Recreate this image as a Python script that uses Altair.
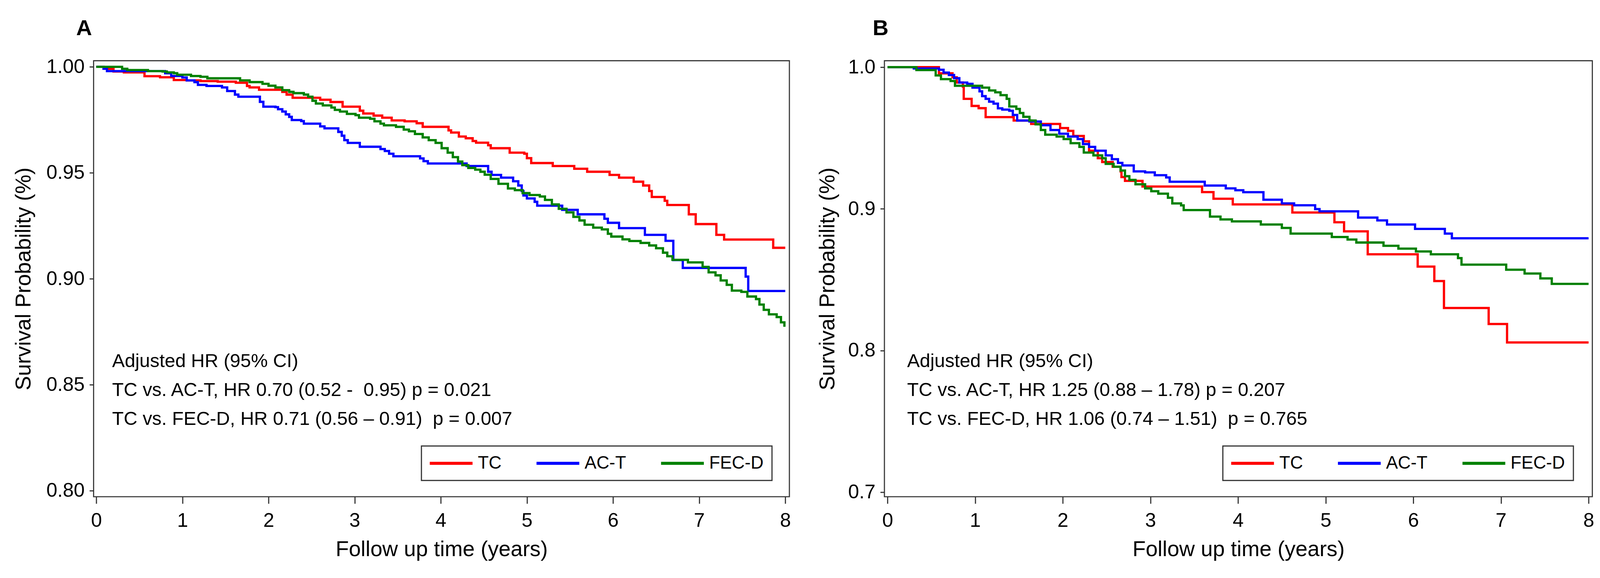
import altair as alt
import pandas as pd

GROUPS = ["TC", "AC-T", "FEC-D"]
COLORS = ["#ff0000", "#0000ff", "#008000"]
X_TICKS = [0, 1, 2, 3, 4, 5, 6, 7, 8]
X_TITLE = "Follow up time (years)"
Y_TITLE = "Survival Probability (%)"

# ---------------- Panel A ----------------
A_TC_T = [0, 0.085, 0.2, 0.32, 0.56, 0.74, 0.9, 1.05, 1.21, 1.41, 1.62, 1.75, 1.78, 1.89, 2.16, 2.21, 2.28,
          2.6, 2.72, 2.86, 3.06, 3.1, 3.22, 3.32, 3.43, 3.58, 3.72, 3.79, 4.09, 4.12, 4.21, 4.29, 4.37, 4.41,
          4.55, 4.58, 4.80, 4.97, 5.0, 5.05, 5.30, 5.55, 5.70, 5.96, 6.07, 6.24, 6.35, 6.42, 6.45, 6.6, 6.63,
          6.88, 6.96, 7.2, 7.29, 7.86, 8.0]
A_TC_S = [1.0, 0.9991, 0.9978, 0.9974, 0.9956, 0.9951, 0.9938, 0.9936, 0.9933, 0.993, 0.9925, 0.991, 0.9903,
          0.9892, 0.9882, 0.9869, 0.9854, 0.9845, 0.9834, 0.9812, 0.9793, 0.978, 0.977, 0.976, 0.9747, 0.9743,
          0.9734, 0.9717, 0.970, 0.969, 0.9671, 0.9663, 0.965, 0.9642, 0.963, 0.9616, 0.9595, 0.959, 0.9569,
          0.9546, 0.9532, 0.9519, 0.9505, 0.949, 0.9477, 0.9458, 0.944, 0.9414, 0.9386, 0.9368, 0.9348, 0.9304,
          0.9258, 0.9207, 0.9185, 0.9146, 0.9146]

A_ACT_T = [0, 0.085, 0.124, 0.80, 0.87, 1.0, 1.05, 1.14, 1.18, 1.28, 1.46, 1.52, 1.61, 1.65, 1.90, 1.94, 2.08,
           2.11, 2.16, 2.2, 2.24, 2.27, 2.38, 2.41, 2.6, 2.65, 2.81, 2.85, 2.88, 2.92, 3.06, 3.30, 3.35, 3.4,
           3.45, 3.76, 3.8, 3.85, 4.30, 4.55, 4.59, 4.70, 4.84, 4.9, 4.94, 4.96, 5.0, 5.09, 5.12, 5.41, 5.59,
           5.90, 5.94, 6.07, 6.37, 6.61, 6.70, 6.81, 7.54, 7.57, 8.0]
A_ACT_S = [1.0, 0.9991, 0.998, 0.997, 0.9957, 0.995, 0.9936, 0.9928, 0.9915, 0.991, 0.9903, 0.9886, 0.9869,
           0.9859, 0.9835, 0.9812, 0.981, 0.98, 0.9789, 0.9776, 0.9764, 0.9749, 0.9744, 0.9732, 0.9719, 0.971,
           0.9693, 0.9675, 0.9654, 0.9641, 0.9623, 0.9612, 0.9603, 0.959, 0.9578, 0.9568, 0.9555, 0.9544, 0.9532,
           0.9505, 0.949, 0.9477, 0.946, 0.944, 0.9414, 0.9393, 0.9379, 0.9363, 0.9345, 0.9325, 0.9304, 0.9283,
           0.9264, 0.9239, 0.9207, 0.9179, 0.9088, 0.9051, 0.901, 0.8942, 0.8942]

A_FEC_T = [0, 0.3, 0.36, 0.6, 0.77, 0.82, 0.9, 0.94, 1.1, 1.21, 1.29, 1.67, 1.78, 1.93, 2.0, 2.08, 2.16, 2.24,
           2.29, 2.41, 2.46, 2.51, 2.55, 2.63, 2.73, 2.77, 2.83, 2.91, 3.01, 3.05, 3.18, 3.23, 3.3, 3.34, 3.48,
           3.57, 3.63, 3.7, 3.79, 3.86, 3.94, 4.01, 4.08, 4.14, 4.2, 4.25, 4.32, 4.4, 4.46, 4.51, 4.58, 4.67,
           4.78, 4.86, 4.95, 5.03, 5.15, 5.21, 5.29, 5.37, 5.46, 5.54, 5.61, 5.67, 5.77, 5.87, 5.94, 5.98, 6.11,
           6.19, 6.32, 6.42, 6.5, 6.58, 6.63, 6.69, 6.87, 7.04, 7.11, 7.19, 7.25, 7.32, 7.38, 7.49, 7.56, 7.66,
           7.7, 7.75, 7.81, 7.9, 7.95, 7.99]
A_FEC_S = [1.0, 0.9991, 0.9985, 0.998, 0.9978, 0.9974, 0.997, 0.9963, 0.9957, 0.9953, 0.9946, 0.9936, 0.9928,
           0.992, 0.9911, 0.9903, 0.989, 0.9882, 0.9876, 0.9869, 0.9859, 0.984, 0.9827, 0.9818, 0.9808, 0.9797,
           0.9789, 0.9778, 0.9772, 0.976, 0.9755, 0.9743, 0.9732, 0.9724, 0.9717, 0.9704, 0.9696, 0.9683, 0.9667,
           0.9654, 0.9641, 0.9616, 0.9595, 0.9574, 0.9553, 0.9536, 0.9523, 0.9515, 0.9505, 0.9491, 0.9471, 0.9448,
           0.9426, 0.9418, 0.9404, 0.9395, 0.9388, 0.9372, 0.9351, 0.933, 0.9313, 0.9292, 0.9275, 0.9255, 0.9241,
           0.9233, 0.9212, 0.9199, 0.9186, 0.9178, 0.9169, 0.9157, 0.9144, 0.9123, 0.9106, 0.9089, 0.9077, 0.9056,
           0.903, 0.9016, 0.8992, 0.8971, 0.8944, 0.8938, 0.8916, 0.8904, 0.8878, 0.8853, 0.8832, 0.8819, 0.8794,
           0.8773]

A_Y_TICKS = [0.80, 0.85, 0.90, 0.95, 1.00]
A_NOTES = ["Adjusted HR (95% CI)",
           "TC vs. AC-T, HR 0.70 (0.52 -\u00a0 0.95) p = 0.021",
           "TC vs. FEC-D, HR 0.71 (0.56 \u2013 0.91)\u00a0 p = 0.007"]

# ---------------- Panel B ----------------
B_TC_T = [0, 0.587, 0.742, 0.79, 0.86, 0.87, 0.96, 1.04, 1.12, 1.44, 1.64, 1.97, 2.06, 2.12, 2.24, 2.3, 2.4,
          2.45, 2.57, 2.66, 2.67, 2.71, 2.91, 3.59, 3.72, 3.94, 4.62, 5.10, 5.21, 5.48, 6.05, 6.24, 6.35, 6.86,
          7.07, 8.0]
B_TC_S = [1.0, 0.9956, 0.9928, 0.9891, 0.9862, 0.9776, 0.9726, 0.971, 0.9647, 0.9623, 0.9599, 0.957, 0.955,
          0.9514, 0.9476, 0.941, 0.9357, 0.933, 0.9297, 0.9264, 0.9224, 0.9197, 0.9157, 0.9118, 0.9071, 0.9031,
          0.8974, 0.8905, 0.8841, 0.8679, 0.8592, 0.849, 0.83, 0.8187, 0.8057, 0.8057]

B_ACT_T = [0, 0.3, 0.587, 0.64, 0.7, 0.76, 0.82, 0.91, 0.97, 1.05, 1.08, 1.12, 1.16, 1.21, 1.26, 1.31, 1.39,
           1.43, 1.48, 1.62, 1.75, 1.86, 1.96, 2.06, 2.17, 2.23, 2.3, 2.37, 2.49, 2.56, 2.63, 2.68, 2.81, 2.94,
           3.05, 3.18, 3.22, 3.62, 3.86, 3.97, 4.06, 4.29, 4.5, 4.64, 4.88, 4.93, 5.37, 5.59, 5.70, 6.02, 6.36,
           6.44, 8.0]
B_ACT_S = [1.0, 0.999, 0.9981, 0.9961, 0.9944, 0.9922, 0.9891, 0.9882, 0.9855, 0.9829, 0.9795, 0.9776, 0.9756,
           0.9742, 0.9709, 0.97, 0.9692, 0.9662, 0.9623, 0.9616, 0.959, 0.9556, 0.953, 0.951, 0.9492, 0.9457,
           0.9437, 0.941, 0.9377, 0.935, 0.9324, 0.9306, 0.9264, 0.9257, 0.9237, 0.9221, 0.9191, 0.9164, 0.9144,
           0.9131, 0.9117, 0.9064, 0.9038, 0.9025, 0.8998, 0.8982, 0.8938, 0.8918, 0.8889, 0.8858, 0.8825,
           0.8792, 0.8792]

B_FEC_T = [0, 0.33, 0.55, 0.61, 0.72, 0.77, 1.08, 1.16, 1.23, 1.29, 1.36, 1.39, 1.47, 1.51, 1.55, 1.62, 1.69,
           1.75, 1.8, 1.93, 2.01, 2.09, 2.19, 2.24, 2.35, 2.45, 2.49, 2.58, 2.66, 2.71, 2.76, 2.83, 2.94, 3.01,
           3.09, 3.2, 3.25, 3.35, 3.38, 3.68, 3.8, 3.93, 4.26, 4.5, 4.6, 5.07, 5.25, 5.35, 5.66, 5.83, 6.03, 6.2,
           6.51, 6.55, 7.06, 7.27, 7.45, 7.58, 8.0]
B_FEC_S = [1.0, 0.9979, 0.9941, 0.9915, 0.9902, 0.9868, 0.9855, 0.9835, 0.9822, 0.9802, 0.9776, 0.9722, 0.9705,
           0.9676, 0.9649, 0.9623, 0.9596, 0.9556, 0.9523, 0.951, 0.9492, 0.9463, 0.9437, 0.9397, 0.9377, 0.9357,
           0.9317, 0.9297, 0.927, 0.923, 0.9204, 0.9173, 0.9144, 0.9124, 0.9107, 0.9078, 0.9038, 0.9024, 0.8991,
           0.8945, 0.8925, 0.8911, 0.8889, 0.8865, 0.8825, 0.8801, 0.8783, 0.8762, 0.8739, 0.8719, 0.8699, 0.8679,
           0.8652, 0.8606, 0.857, 0.8543, 0.8509, 0.847, 0.847]

B_Y_TICKS = [0.7, 0.8, 0.9, 1.0]
B_NOTES = ["Adjusted HR (95% CI)",
           "TC vs. AC-T, HR 1.25 (0.88 \u2013 1.78) p = 0.207",
           "TC vs. FEC-D, HR 1.06 (0.74 \u2013 1.51)\u00a0 p = 0.765"]

FONT = "Liberation Sans"


def make_df(series):
    frames = []
    for name, ts, ss in series:
        frames.append(pd.DataFrame({"t": ts, "s": ss, "group": name}))
    return pd.concat(frames, ignore_index=True)


def panel(series, xdom, ydom, yticks, yfmt, width, letter, letter_x, notes, notes_x,
          legend_x, title_pad):
    df = make_df(series)
    lines = alt.Chart(df).mark_line(interpolate="step-after", strokeWidth=6).encode(
        x=alt.X("t:Q",
                scale=alt.Scale(domain=xdom, nice=False, zero=False),
                axis=alt.Axis(values=X_TICKS, format="d", title=X_TITLE, grid=False,
                              tickSize=18, labelPadding=20, titlePadding=22)),
        y=alt.Y("s:Q",
                scale=alt.Scale(domain=ydom, nice=False, zero=False),
                axis=alt.Axis(values=yticks, format=yfmt, title=Y_TITLE, grid=False,
                              tickSize=11, labelPadding=13, titlePadding=title_pad)),
        color=alt.Color("group:N",
                        scale=alt.Scale(domain=GROUPS, range=COLORS),
                        sort=GROUPS,
                        legend=alt.Legend(orient="none", legendX=legend_x, legendY=1018,
                                          direction="horizontal", title=None,
                                          symbolType="M-3,0H3", symbolSize=1419,
                                          symbolStrokeWidth=8, symbolOffset=33,
                                          labelFontSize=47, labelOffset=47,
                                          columnPadding=75, padding=22,
                                          strokeColor="#333333", labelColor="black",
                                          labelFont=FONT, labelLimit=400)),
    )
    note = alt.Chart(pd.DataFrame({"k": [0]})).mark_text(
        align="left", baseline="alphabetic", fontSize=50, lineBreak="\n", lineHeight=76,
        font=FONT, color="black"
    ).encode(x=alt.value(notes_x), y=alt.value(810), text=alt.value("\n".join(notes)))
    let = alt.Chart(pd.DataFrame({"k": [0]})).mark_text(
        align="left", baseline="alphabetic", fontSize=58, fontWeight="bold", font=FONT,
        color="black"
    ).encode(x=alt.value(letter_x), y=alt.value(-68), text=alt.value(letter))
    return alt.layer(lines, note, let).properties(width=width, height=1152)


panel_a = panel([("TC", A_TC_T, A_TC_S), ("AC-T", A_ACT_T, A_ACT_S), ("FEC-D", A_FEC_T, A_FEC_S)],
                [-0.031, 8.048], [0.7971, 1.0029], A_Y_TICKS, ".2f", 1838, "A", -46, A_NOTES, 49,
                866, 30)
panel_b = panel([("TC", B_TC_T, B_TC_S), ("AC-T", B_ACT_T, B_ACT_S), ("FEC-D", B_FEC_T, B_FEC_S)],
                [-0.035, 8.043], [0.6968, 1.0045], B_Y_TICKS, ".1f", 1870, "B", -31, B_NOTES, 60,
                894, 24)

chart = alt.hconcat(panel_a, panel_b, spacing=251, bounds="flush").resolve_scale(
    color="independent"
).resolve_legend(color="independent").properties(
    padding={"left": 24, "top": 13, "right": 5, "bottom": 5}
).configure(font=FONT).configure_view(
    stroke="#3a3a3a", strokeWidth=3
).configure_axis(
    domain=False, tickColor="#333333", tickWidth=3, labelColor="black", titleColor="black",
    labelFont=FONT, titleFont=FONT, labelFontSize=52, titleFontSize=57, titleFontWeight="normal"
).configure_legend(strokeWidth=3)

chart.save("out.html", embed_options={"renderer": "svg", "actions": False})
